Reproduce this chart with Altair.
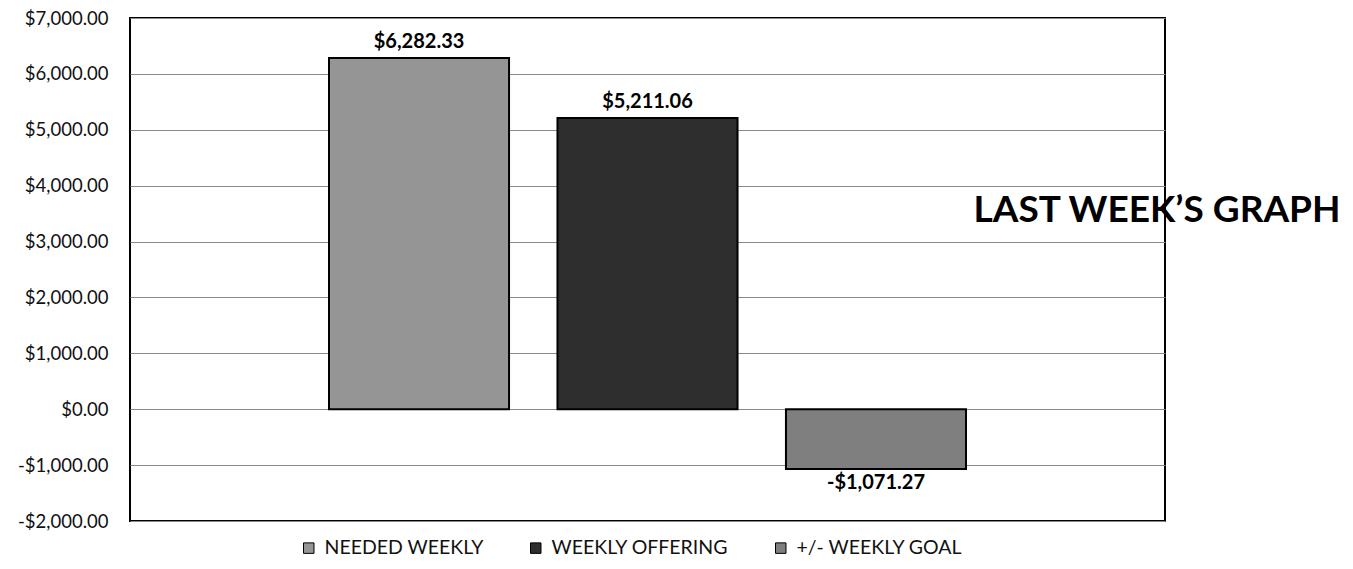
import altair as alt
import pandas as pd

series = ["NEEDED WEEKLY", "WEEKLY OFFERING", "+/- WEEKLY GOAL"]
values = [6282.33, 5211.06, -1071.27]
value_labels = ["$6,282.33", "$5,211.06", "-$1,071.27"]
colors = ["#959595", "#2e2e2e", "#7f7f7f"]
y_ticks = [-2000, -1000, 0, 1000, 2000, 3000, 4000, 5000, 6000, 7000]
title_text = "LAST WEEK\u2019S GRAPH"

FONT = "Lato"

df = pd.DataFrame({"series": series, "value": values, "label": value_labels})

x_scale = alt.Scale(paddingInner=0.212, paddingOuter=0.871)
x_enc = alt.X("series:N", sort=series, axis=None, scale=x_scale)
y_enc = alt.Y("value:Q",
              scale=alt.Scale(domain=[-2000, 7000], nice=False, zero=False),
              axis=alt.Axis(title=None, values=y_ticks, domain=False, ticks=False,
                            grid=True, gridColor="#8a8a8a", gridWidth=1,
                            labelFont=FONT, labelFontSize=18.5, labelColor="#111",
                            labelPadding=22,
                            labelExpr="(datum.value < 0 ? '-' : '') + '$' + format(abs(datum.value), ',.2f')"))

bars = alt.Chart(df).mark_bar(stroke="black", strokeWidth=2).encode(
    x=x_enc,
    y=y_enc,
    color=alt.Color("series:N", sort=series,
                    scale=alt.Scale(domain=series, range=colors),
                    legend=alt.Legend(title=None, orient="none", direction="horizontal",
                                      legendX=169, legendY=520,
                                      symbolType="square", symbolSize=110,
                                      symbolStrokeColor="black", symbolStrokeWidth=1,
                                      labelFont=FONT, labelFontSize=19.5, labelColor="#111",
                                      labelLimit=400,
                                      columnPadding=42, labelOffset=6)),
)

pos_labels = alt.Chart(df).transform_filter("datum.value >= 0").mark_text(
    baseline="alphabetic", dy=-10, font=FONT, fontSize=20, fontWeight="bold", color="black"
).encode(x=alt.X("series:N", sort=series, axis=None, scale=x_scale),
         y="value:Q", text="label:N")

neg_labels = alt.Chart(df).transform_filter("datum.value < 0").mark_text(
    baseline="top", dy=4, font=FONT, fontSize=20, fontWeight="bold", color="black"
).encode(x=alt.X("series:N", sort=series, axis=None, scale=x_scale),
         y="value:Q", text="label:N")

title = alt.Chart(pd.DataFrame({"t": [title_text]})).mark_text(
    font=FONT, fontSize=37, fontWeight="bold", color="black",
    align="center", baseline="middle"
).encode(x=alt.value(1027), y=alt.value(193), text="t:N")

chart = alt.layer(bars, pos_labels, neg_labels, title).properties(
    width=1035, height=503,
    background="white",
    autosize=alt.AutoSizeParams(type="none"),
    padding={"left": 122, "top": 10, "right": 180, "bottom": 40},
).configure_view(stroke="black", strokeWidth=2)

chart.save("out.html", embed_options={"renderer": "svg", "actions": False})
